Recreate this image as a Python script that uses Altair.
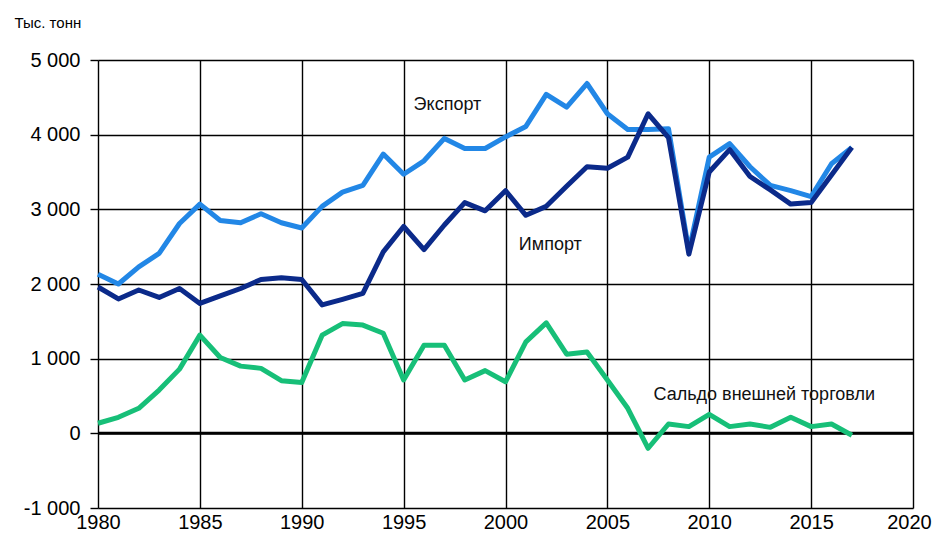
import altair as alt
import pandas as pd

years = list(range(1980, 2018))
export = [2130, 2000, 2230, 2410, 2810, 3070, 2850, 2820, 2940, 2820, 2750,
          3040, 3230, 3320, 3740, 3470, 3650, 3950, 3815, 3815, 3970,
          4110, 4540, 4370, 4685, 4280, 4070, 4070, 4080, 2440, 3700,
          3880, 3570, 3320, 3250, 3170, 3610, 3830]
imports = [1960, 1800, 1920, 1820, 1940, 1740, 1840, 1940, 2060, 2085, 2060,
           1720, 1795, 1875, 2430, 2770, 2460, 2790, 3090, 2980, 3250,
           2920, 3040, 3310, 3570, 3550, 3700, 4280, 3960, 2400, 3500,
           3800, 3440, 3260, 3070, 3090, 3460, 3830]
balance = [135, 215, 335, 580, 860, 1315, 1015, 900, 870, 705, 680,
           1315, 1470, 1450, 1340, 715, 1180, 1180, 715, 840, 690,
           1225, 1480, 1060, 1090, 715, 335, -200, 125, 90, 255,
           90, 125, 80, 215, 90, 125, -25]

series_names = ["Экспорт", "Импорт", "Сальдо внешней торговли"]
series_colors = ["#2287e6", "#0b2a8a", "#17bf78"]

x_ticks = list(range(1980, 2021, 5))
y_ticks = list(range(-1000, 5001, 1000))

ann_labels = ["Экспорт", "Импорт", "Сальдо внешней торговли"]
ann_years = [1997.15, 2002.2, 2012.7]
ann_values = [4400, 2520, 510]

rows = []
for name, vals in zip(series_names, [export, imports, balance]):
    for y, v in zip(years, vals):
        rows.append({"year": y, "value": v, "series": name})
df = pd.DataFrame(rows)
ann = pd.DataFrame({"label": ann_labels, "year": ann_years, "value": ann_values})

x = alt.X("year:Q",
          scale=alt.Scale(domain=[1980, 2020], nice=False, zero=False),
          axis=alt.Axis(values=x_ticks, format="d", title=None, tickSize=0,
                        labelPadding=4, labelFontSize=20, labelColor="#000",
                        labelFont="Liberation Sans", labelFlush=False,
                        labelOffset={"condition": {"test": "datum.value == 2020", "value": -4}, "value": 0},
                        domain=False, gridColor="#000", gridWidth=1.4))
y = alt.Y("value:Q",
          scale=alt.Scale(domain=[-1000, 5000], nice=False, zero=False),
          axis=alt.Axis(values=y_ticks,
                        labelExpr="datum.value < 0 ? '-' + replace(format(-datum.value, ',d'), ',', ' ') : replace(format(datum.value, ',d'), ',', ' ')",
                        title="Тыс. тонн", titleAngle=0, titleAlign="left",
                        titleBaseline="middle", titleX=-84, titleY=-38,
                        titleFontSize=15, titleFontWeight="normal",
                        titleFont="Liberation Sans", titleColor="#000",
                        tickSize=8, tickColor="#000", tickWidth=1.4,
                        labelPadding=10, labelFontSize=20, labelColor="#000",
                        labelFont="Liberation Sans", labelFlush=False,
                        domain=False, gridColor="#000", gridWidth=1.4))

color = alt.Color("series:N",
                  scale=alt.Scale(domain=series_names, range=series_colors),
                  legend=None)

base = alt.Chart(df)
line_exp = base.transform_filter(alt.datum.series == series_names[0]).mark_line(
    strokeWidth=5, strokeJoin="round").encode(x=x, y=y, color=color)
line_imp = base.transform_filter(alt.datum.series == series_names[1]).mark_line(
    strokeWidth=5, strokeJoin="round").encode(x=x, y=y, color=color)
line_bal = base.transform_filter(alt.datum.series == series_names[2]).mark_line(
    strokeWidth=5, strokeJoin="round").encode(x=x, y=y, color=color)

zero = alt.Chart(pd.DataFrame({"z": [0]})).mark_rule(
    color="#000", strokeWidth=3).encode(y="z:Q")

texts = alt.Chart(ann).mark_text(
    fontSize=18, font="Liberation Sans", color="#111", align="center",
    baseline="middle").encode(x="year:Q", y="value:Q", text="label:N")

chart = alt.layer(zero, line_exp, line_imp, line_bal, texts).properties(
    width=815, height=448,
    autosize=alt.AutoSizeParams(type="none"),
    padding={"left": 90, "top": 52, "right": 19, "bottom": 30},
).configure_view(stroke="#000", strokeWidth=2).configure(background="white")

chart.save("out.html", embed_options={"renderer": "svg", "actions": False})
